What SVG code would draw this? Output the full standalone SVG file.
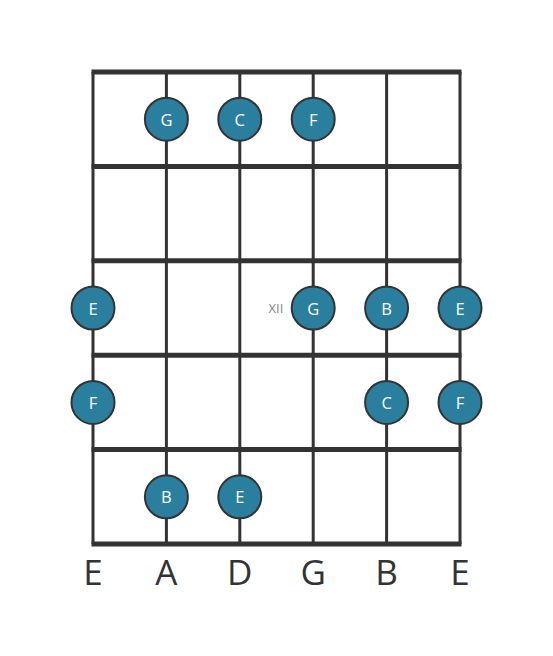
<svg xmlns="http://www.w3.org/2000/svg" width="553" height="656" viewBox="0 0 553 656">
<style>
.fret{stroke:#333;stroke-width:5;}
.string{stroke:#333;stroke-width:3;}
.dot circle{fill:#2a7f9e;stroke:#333;stroke-width:2;}
.dot text{fill:#fff;font-family:"Open Sans",sans-serif;font-size:16.5px;text-anchor:middle;dominant-baseline:central;}
.lbl{fill:#333;font-family:"Open Sans",sans-serif;font-size:35px;text-anchor:middle;}
.pos{fill:#888;font-family:"Open Sans",sans-serif;font-size:13px;text-anchor:middle;dominant-baseline:central;}
</style>
<rect width="553" height="656" fill="#fff"/>
<g id="fretboard">
<line class="string" x1="93" y1="72" x2="93" y2="544"/>
<line class="string" x1="166.4" y1="72" x2="166.4" y2="544"/>
<line class="string" x1="239.8" y1="72" x2="239.8" y2="544"/>
<line class="string" x1="313.2" y1="72" x2="313.2" y2="544"/>
<line class="string" x1="386.6" y1="72" x2="386.6" y2="544"/>
<line class="string" x1="460" y1="72" x2="460" y2="544"/>
<line class="fret" x1="91.5" y1="72" x2="461.5" y2="72"/>
<line class="fret" x1="91.5" y1="166.4" x2="461.5" y2="166.4"/>
<line class="fret" x1="91.5" y1="260.8" x2="461.5" y2="260.8"/>
<line class="fret" x1="91.5" y1="355.2" x2="461.5" y2="355.2"/>
<line class="fret" x1="91.5" y1="449.6" x2="461.5" y2="449.6"/>
<line class="fret" x1="91.5" y1="544" x2="461.5" y2="544"/>
</g>
<text class="pos" x="276" y="308">XII</text>
<g id="n1" class="dot"><circle cx="166.4" cy="119.2" r="21.5"/><text x="166.4" y="119.2">G</text></g>
<g id="n2" class="dot"><circle cx="239.8" cy="119.2" r="21.5"/><text x="239.8" y="119.2">C</text></g>
<g id="n3" class="dot"><circle cx="313.2" cy="119.2" r="21.5"/><text x="313.2" y="119.2">F</text></g>
<g id="n4" class="dot"><circle cx="93" cy="308" r="21.5"/><text x="93" y="308">E</text></g>
<g id="n5" class="dot"><circle cx="313.2" cy="308" r="21.5"/><text x="313.2" y="308">G</text></g>
<g id="n6" class="dot"><circle cx="386.6" cy="308" r="21.5"/><text x="386.6" y="308">B</text></g>
<g id="n7" class="dot"><circle cx="460" cy="308" r="21.5"/><text x="460" y="308">E</text></g>
<g id="n8" class="dot"><circle cx="93" cy="402.4" r="21.5"/><text x="93" y="402.4">F</text></g>
<g id="n9" class="dot"><circle cx="386.6" cy="402.4" r="21.5"/><text x="386.6" y="402.4">C</text></g>
<g id="n10" class="dot"><circle cx="460" cy="402.4" r="21.5"/><text x="460" y="402.4">F</text></g>
<g id="n11" class="dot"><circle cx="166.4" cy="496.8" r="21.5"/><text x="166.4" y="496.8">B</text></g>
<g id="n12" class="dot"><circle cx="239.8" cy="496.8" r="21.5"/><text x="239.8" y="496.8">E</text></g>
<g id="labels">
<text class="lbl" x="93" y="585">E</text>
<text class="lbl" x="166.4" y="585">A</text>
<text class="lbl" x="239.8" y="585">D</text>
<text class="lbl" x="313.2" y="585">G</text>
<text class="lbl" x="386.6" y="585">B</text>
<text class="lbl" x="460" y="585">E</text>
</g>
<g id="connectors"/>
</svg>
